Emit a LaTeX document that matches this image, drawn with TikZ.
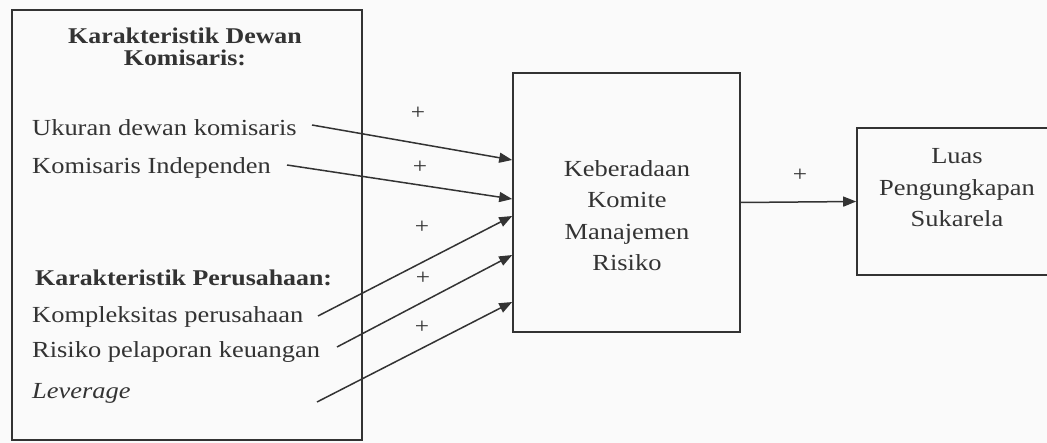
\documentclass[tikz,border=0pt]{standalone}
\usepackage{fontspec}
\setmainfont{Liberation Serif}[FakeStretch=1.15]
\usetikzlibrary{arrows.meta,calc}
\definecolor{ink}{HTML}{333333}
\definecolor{bgc}{HTML}{FAFAFA}
\begin{document}
\begin{tikzpicture}[x=1pt,y=-1pt,
  box/.style={draw=ink,line width=1.6pt,inner sep=0pt},
  txt/.style={text=ink,font=\fontsize{23}{31.5}\selectfont,inner sep=0pt},
  ttl/.style={text=ink,font=\fontsize{22.5}{21.5}\selectfont\bfseries,inner sep=0pt},
  plus/.style={text=ink,font=\fontsize{22}{22}\selectfont,inner sep=0pt},
  arr/.style={draw=ink,line width=1.5pt,-{Triangle[length=13pt,width=10pt]}}]
\useasboundingbox (0,0) rectangle (1047,443);
\fill[bgc] (0,0) rectangle (1047,443);
\begin{scope}
\clip (0,0) rectangle (1047,443);
% boxes
\node[box,minimum width=350pt,minimum height=430pt] (left) at (187,225) {};
\node[box,minimum width=227pt,minimum height=259pt] (mid) at (626.5,202.5) {};
\node[box,minimum width=200pt,minimum height=147pt] (right) at (957,201.5) {};
% left texts
\node[ttl,align=center] (t0) at (185,47) {Karakteristik Dewan\\Komisaris:};
\node[txt,anchor=west] (u1) at (32,128) {Ukuran dewan komisaris};
\node[txt,anchor=west] (u2) at (32,168) {Komisaris Independen};
\node[ttl,anchor=west] (t1) at (35,278) {Karakteristik Perusahaan:};
\node[txt,anchor=west] (u3) at (32,317) {Kompleksitas perusahaan};
\node[txt,anchor=west] (u4) at (32,352) {Risiko pelaporan keuangan};
\node[txt,anchor=west] (u5) at (32,393) {\itshape Leverage};
% middle and right texts
\node[txt,align=center] (mt) at (627,215.5) {Keberadaan\\Komite\\Manajemen\\Risiko};
\node[txt,align=center] (rt) at (957,188) {Luas\\Pengungkapan\\Sukarela};
% plus signs
\node[plus] (p1) at (418,113) {+};
\node[plus] (p2) at (420,167) {+};
\node[plus] (p3) at (422,227) {+};
\node[plus] (p4) at (423,278) {+};
\node[plus] (p5) at (422,327) {+};
\node[plus] (p6) at (800,175) {+};
% arrow start points
\coordinate (s1) at (312,125);
\coordinate (s2) at (287,165);
\coordinate (s3) at (318,316);
\coordinate (s4) at (337,347);
\coordinate (s5) at (317,402);
\draw[arr] (s1) -- ([yshift=42.5pt]mid.west);
\draw[arr] (s2) -- ([yshift=3.5pt]mid.west);
\draw[arr] (s3) -- ([yshift=-13.5pt]mid.west);
\draw[arr] (s4) -- ([yshift=-52.5pt]mid.west);
\draw[arr] (s5) -- ([yshift=-99.5pt]mid.west);
\draw[arr] (mid.east) -- (right.west);
\end{scope}
\end{tikzpicture}
\end{document}
